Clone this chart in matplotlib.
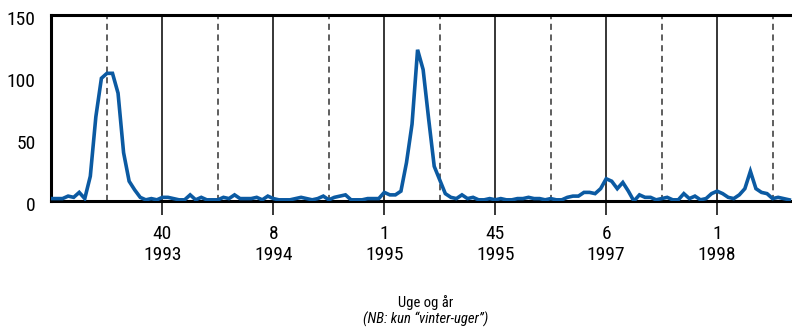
import matplotlib
matplotlib.use("Agg")
import matplotlib.pyplot as plt
import matplotlib.transforms as mtransforms

# weekly values, winter weeks only
cases = [2, 2, 2, 4, 3, 7, 2, 20, 68, 99,
         103, 103, 87, 39, 16, 9, 3, 1, 2, 1,
         3, 3, 2, 1, 1, 5, 1, 3, 1, 1,
         1, 3, 2, 5, 2, 2, 2, 3, 1, 4,
         2, 1, 1, 1, 2, 3, 2, 1, 2, 4,
         1, 3, 4, 5, 1, 1, 1, 2, 2, 2,
         7, 5, 5, 8, 31, 62, 122, 106, 66, 28,
         17, 6, 3, 2, 5, 2, 3, 1, 1, 2,
         1, 2, 1, 1, 2, 2, 3, 2, 2, 1,
         2, 1, 1, 3, 4, 4, 7, 7, 6, 10,
         18, 16, 10, 15, 8, 0, 5, 3, 3, 1,
         2, 3, 1, 1, 6, 2, 4, 1, 2, 6,
         8, 6, 3, 2, 5, 10, 24, 10, 7, 6,
         2, 3, 2, 1]
tick_pos = [20, 40, 60, 80, 100, 120]
tick_labels = ["40\n1993", "8\n1994", "1\n1995", "45\n1995", "6\n1997", "1\n1998"]
dash_pos = [10, 30, 50, 70, 90, 110, 130]

plt.rcParams["font.family"] = ["Roboto Condensed", "Liberation Sans Narrow", "Roboto", "DejaVu Sans"]

fig = plt.figure(figsize=(7.92, 3.34), dpi=100)
ax = fig.add_axes([0.065, 0.398, 0.935, 0.557])

for p in tick_pos:
    ax.axvline(p, color="black", lw=1.1, zorder=1)
for p in dash_pos:
    ax.axvline(p, color="#333333", lw=1.1, ls=(0, (4, 3)), zorder=1)

ax.plot(range(len(cases)), cases, color="#0b5aa2", lw=2.6, zorder=3, solid_joinstyle="miter")

ax.set_xlim(0, 133.5)
ax.set_ylim(0, 150)
ax.set_yticks([0, 50, 100, 150])
ax.set_xticks(tick_pos)
ax.set_xticklabels(tick_labels, fontsize=14, linespacing=1.25)
ax.tick_params(axis="y", length=0, pad=11.5, labelsize=14)
ax.tick_params(axis="x", length=10, width=1.1, pad=7, direction="out")

shift = mtransforms.ScaledTranslation(0, -3 / 100, fig.dpi_scale_trans)
for lab in ax.get_yticklabels():
    lab.set_transform(lab.get_transform() + shift)

for s in ["top", "left", "bottom"]:
    ax.spines[s].set_linewidth(2.2)
ax.spines["right"].set_visible(False)

fig.text(0.537, 0.082, "Uge og år", ha="center", fontsize=10.5)
fig.text(0.537, 0.030, "(NB: kun \u201cvinter-uger\u201d)", ha="center", fontsize=10.5, style="italic")

plt.savefig("out.png", dpi=100)
